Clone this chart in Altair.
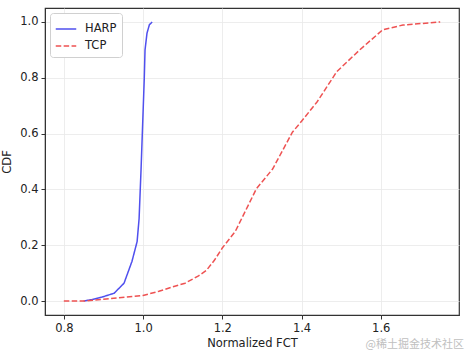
import altair as alt
import pandas as pd

harp_x = [0.85, 0.87, 0.896, 0.927, 0.952, 0.972, 0.985, 0.99, 0.995, 1.003, 1.005, 1.01, 1.016, 1.023]
harp_y = [0.0, 0.005, 0.014, 0.028, 0.064, 0.142, 0.213, 0.295, 0.473, 0.794, 0.9, 0.96, 0.99, 1.0]

tcp_x = [0.8, 0.85, 0.9, 1.0, 1.04, 1.08, 1.106, 1.14, 1.16, 1.18, 1.2, 1.233, 1.286, 1.327,
         1.377, 1.4, 1.44, 1.489, 1.547, 1.605, 1.656, 1.75]
tcp_y = [0.0, 0.0, 0.006, 0.02, 0.035, 0.053, 0.064, 0.09, 0.11, 0.146, 0.19, 0.25, 0.402, 0.473,
         0.605, 0.644, 0.715, 0.822, 0.9, 0.972, 0.989, 1.0]

x_ticks = [0.8, 1.0, 1.2, 1.4, 1.6]
y_ticks = [0.0, 0.2, 0.4, 0.6, 0.8, 1.0]

df = pd.concat([
    pd.DataFrame({"fct": harp_x, "cdf": harp_y, "series": "HARP", "order": range(len(harp_x))}),
    pd.DataFrame({"fct": tcp_x, "cdf": tcp_y, "series": "TCP", "order": range(len(tcp_x))}),
])

font = "DejaVu Sans"
fs = 11.5

lines = alt.Chart(df).mark_line(strokeWidth=1.5, clip=True).encode(
    x=alt.X("fct:Q", title="Normalized FCT",
            scale=alt.Scale(domain=[0.7525, 1.7975], nice=False, zero=False),
            axis=alt.Axis(values=x_ticks, format=".1f", grid=True)),
    y=alt.Y("cdf:Q", title="CDF",
            scale=alt.Scale(domain=[-0.05, 1.05], nice=False, zero=False),
            axis=alt.Axis(values=y_ticks, format=".1f", grid=True)),
    color=alt.Color("series:N", scale=alt.Scale(domain=["HARP", "TCP"], range=["#5050ee", "#ee5252"]),
                    legend=alt.Legend(title=None, orient="none", legendX=5, legendY=5,
                                      symbolType="stroke", symbolSize=420, symbolStrokeWidth=1.5,
                                      labelFont=font, labelFontSize=fs, labelColor="#222",
                                      fillColor="white", strokeColor="#d0d0d0", padding=5,
                                      cornerRadius=3, rowPadding=0, labelOffset=8)),
    strokeDash=alt.StrokeDash("series:N", scale=alt.Scale(domain=["HARP", "TCP"], range=[[1, 0], [5.5, 2.4]]),
                              legend=alt.Legend(title=None, orient="none", legendX=5, legendY=5)),
    order="order:Q",
)

watermark = alt.Chart(pd.DataFrame({"t": ["@稀土掘金技术社区"]})).mark_text(
    font="Noto Sans CJK SC", fontSize=11, color="#c0c0c0", align="right", baseline="bottom"
).encode(text="t:N", x=alt.value(419), y=alt.value(342))

chart = alt.layer(lines, watermark).properties(
    width=414, height=307,
    autosize=alt.AutoSizeParams(type="none"),
    padding={"left": 45, "top": 8, "right": 14, "bottom": 39},
).configure_view(stroke="#333333", strokeWidth=1.2).configure_axis(
    labelFont=font, titleFont=font, labelFontSize=fs, titleFontSize=fs,
    labelColor="#222", titleColor="#222", titleFontWeight="normal",
    domainColor="#333333", tickColor="#333333", tickSize=4,
    gridColor="#e8e8e8", gridWidth=0.8, labelPadding=3,
).configure_axisX(titlePadding=4).configure_axisY(titlePadding=7)

chart.save("out.html", embed_options={"renderer": "svg", "actions": False})
